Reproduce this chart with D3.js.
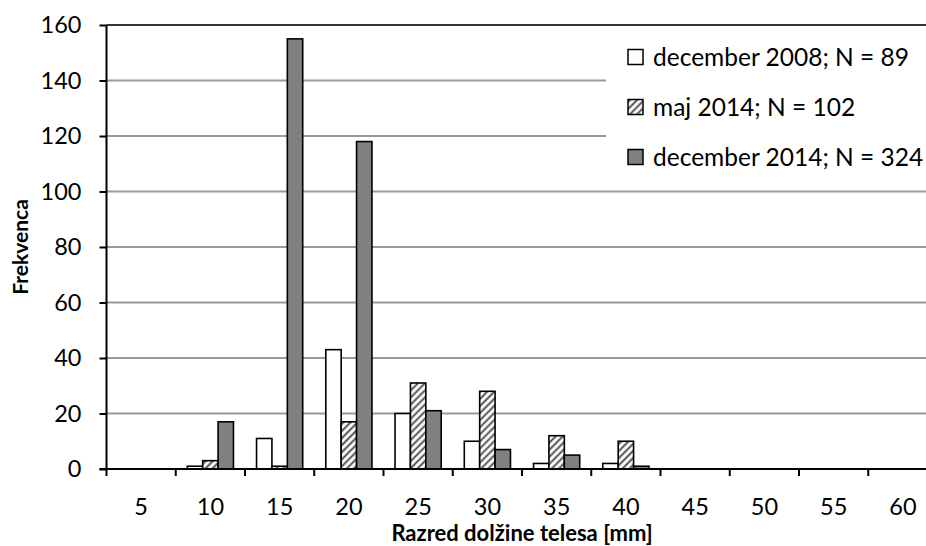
<!DOCTYPE html>
<html>
<head>
<meta charset="utf-8">
<script src="https://cdn.jsdelivr.net/npm/d3@7"></script>
<style>
  html, body { margin: 0; padding: 0; background: #fff; overflow: hidden; }
  svg { display: block; }
  text { font-family: Lato, "Open Sans", sans-serif; fill: #000; }
</style>
</head>
<body>
<svg id="chart" width="926" height="546"></svg>
<script>
const categories = ["5", "10", "15", "20", "25", "30", "35", "40", "45", "50", "55", "60"];
const dec2008 = [0, 1, 11, 43, 20, 10, 2, 2, 0, 0, 0, 0];
const maj2014 = [0, 3, 1, 17, 31, 28, 12, 10, 0, 0, 0, 0];
const dec2014 = [0, 17, 155, 118, 21, 7, 5, 1, 0, 0, 0, 0];
const seriesNames = ["december 2008; N = 89", "maj 2014; N = 102", "december 2014; N = 324"];
const yTicks = [0, 20, 40, 60, 80, 100, 120, 140, 160];
const xTitle = "Razred dolžine telesa [mm]";
const yTitle = "Frekvenca";

const series = [
  { name: seriesNames[0], values: dec2008, fill: "#ffffff" },
  { name: seriesNames[1], values: maj2014, fill: "url(#hatch)" },
  { name: seriesNames[2], values: dec2014, fill: "#808080" }
];

const svg = d3.select("#chart");
const plot = { left: 106.5, right: 937.5, top: 25, bottom: 469 };

const defs = svg.append("defs");
const pat = defs.append("pattern")
  .attr("id", "hatch").attr("patternUnits", "userSpaceOnUse")
  .attr("width", 5).attr("height", 5)
  .attr("patternTransform", "rotate(45)");
pat.append("rect").attr("width", 5).attr("height", 5).attr("fill", "#fff");
pat.append("line").attr("x1", 1.5).attr("y1", 0).attr("x2", 1.5).attr("y2", 5)
  .attr("stroke", "#404040").attr("stroke-width", 1.8);

const x = d3.scaleBand().domain(categories).range([plot.left, plot.right]).padding(0);
const xs = d3.scaleBand().domain(d3.range(series.length)).range([0, x.bandwidth()])
  .paddingInner(0).paddingOuter(0.75);
const y = d3.scaleLinear().domain([0, 160]).range([plot.bottom, plot.top]);

// gridlines
svg.append("g").selectAll("line").data(yTicks.filter(d => d > 0)).join("line")
  .attr("x1", plot.left).attr("x2", plot.right)
  .attr("y1", d => y(d)).attr("y2", d => y(d))
  .attr("stroke", d => d === 160 ? "#333" : "#999")
  .attr("stroke-width", 2);

// legend background (hides gridlines)
svg.append("rect").attr("x", 606).attr("y", 32).attr("width", 330).attr("height", 155).attr("fill", "#fff");

// bars
const groups = svg.append("g").selectAll("g").data(series).join("g");
groups.each(function (s, si) {
  d3.select(this).selectAll("rect")
    .data(categories.map((c, i) => ({ c, v: s.values[i] })).filter(d => d.v > 0))
    .join("rect")
    .attr("x", d => x(d.c) + xs(si))
    .attr("width", xs.bandwidth())
    .attr("y", d => y(d.v))
    .attr("height", d => y(0) - y(d.v))
    .attr("fill", s.fill)
    .attr("stroke", "#000")
    .attr("stroke-width", 1.6);
});

// y axis
const yAxis = svg.append("g").attr("transform", `translate(${plot.left},0)`)
  .call(d3.axisLeft(y).tickValues(yTicks).tickSize(7).tickPadding(18).tickFormat(d3.format("d")));
yAxis.select(".domain").attr("stroke", "#000").attr("stroke-width", 2).attr("d", `M0,${plot.top}V${plot.bottom}`);
yAxis.selectAll(".tick line").attr("stroke", "#000").attr("stroke-width", 2);
yAxis.selectAll("text").style("font-size", "23.5px").attr("font-family", null);

// x axis
const xAxis = svg.append("g").attr("transform", `translate(0,${plot.bottom})`)
  .call(d3.axisBottom(x).tickSize(0).tickPadding(0));
xAxis.select(".domain").attr("stroke", "#000").attr("stroke-width", 2).attr("d", `M${plot.left - 7},0H${plot.right}`);
xAxis.selectAll(".tick text").attr("y", 46).attr("dy", null).style("font-size", "23.5px");
const bounds = categories.map(c => x(c)).concat([x(categories[categories.length - 1]) + x.bandwidth()]);
xAxis.selectAll("line.bnd").data(bounds).join("line").attr("class", "bnd")
  .attr("x1", d => d).attr("x2", d => d).attr("y1", 0).attr("y2", 7)
  .attr("stroke", "#000").attr("stroke-width", 2);

// axis titles
svg.append("text").attr("x", (plot.left + plot.right) / 2).attr("y", 541)
  .attr("text-anchor", "middle").style("font-size", "22px").style("font-weight", "bold").text(xTitle);
svg.append("text").attr("transform", `translate(28,${(plot.top + plot.bottom) / 2}) rotate(-90)`)
  .attr("text-anchor", "middle").style("font-size", "21px").style("font-weight", "bold").text(yTitle);

// legend
const legend = svg.append("g").selectAll("g").data(series).join("g")
  .attr("transform", (d, i) => `translate(628,${57 + i * 50})`);
legend.append("rect").attr("x", 0).attr("y", -7.5).attr("width", 15).attr("height", 15)
  .attr("fill", d => d.fill).attr("stroke", "#000").attr("stroke-width", 1.5);
legend.append("text").attr("x", 25).attr("y", 0).attr("dy", "0.35em")
  .style("font-size", "24.5px").text(d => d.name);
</script>
</body>
</html>
